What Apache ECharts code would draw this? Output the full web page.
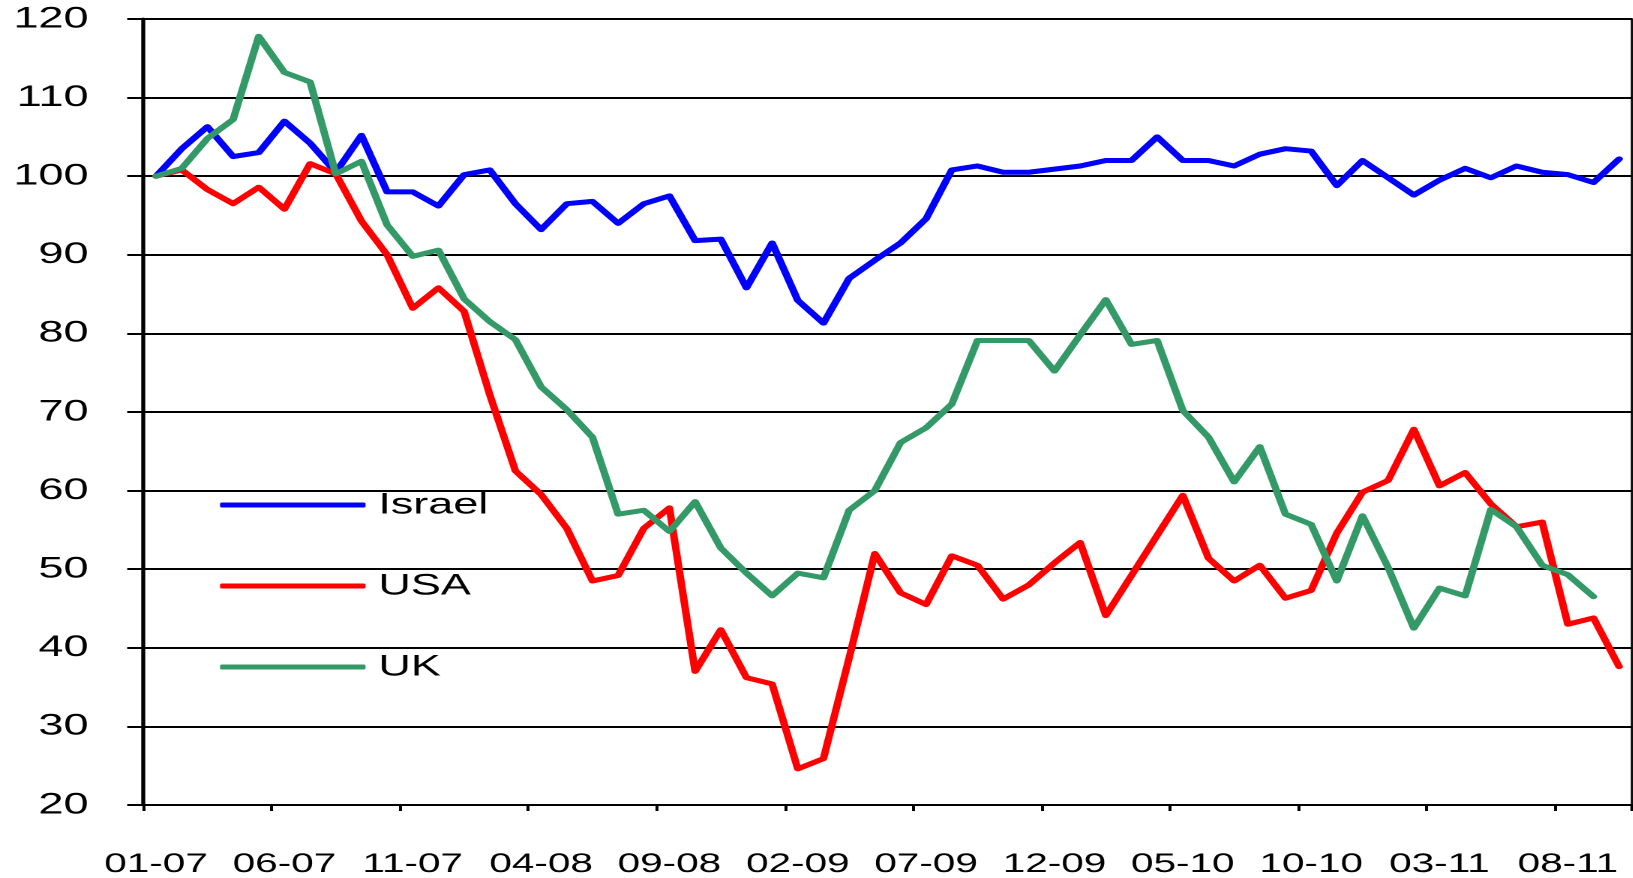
<!DOCTYPE html>
<html>
<head>
<meta charset="utf-8">
<script src="https://cdn.jsdelivr.net/npm/echarts@6/dist/echarts.min.js"></script>
<style>
  html, body { margin: 0; padding: 0; background: #fff; overflow: hidden; }
  /* the original picture is a chart stretched 1.5x sideways */
  #chart {
    width: 1088.67px;
    height: 878px;
    transform: scaleX(1.5);
    transform-origin: 0 0;
  }
</style>
</head>
<body>
<div id="chart"></div>
<script>
var months = [
  "01-07", "02-07", "03-07", "04-07", "05-07", "06-07", "07-07", "08-07", "09-07", "10-07", "11-07", "12-07",
  "01-08", "02-08", "03-08", "04-08", "05-08", "06-08", "07-08", "08-08", "09-08", "10-08", "11-08", "12-08",
  "01-09", "02-09", "03-09", "04-09", "05-09", "06-09", "07-09", "08-09", "09-09", "10-09", "11-09", "12-09",
  "01-10", "02-10", "03-10", "04-10", "05-10", "06-10", "07-10", "08-10", "09-10", "10-10", "11-10", "12-10",
  "01-11", "02-11", "03-11", "04-11", "05-11", "06-11", "07-11", "08-11", "09-11", "10-11"
];

var israel = [
  100, 103.5, 106.3, 102.5, 103, 107, 104.2, 100.5, 105.2, 98, 98, 96.2,
  100.2, 100.8, 96.5, 93.2, 96.5, 96.8, 94, 96.5, 97.5, 91.8, 92, 85.8,
  91.5, 84.2, 81.3, 87, 89.3, 91.5, 94.6, 100.8, 101.3, 100.5, 100.5, 100.9,
  101.3, 102, 102, 105, 102, 102, 101.3, 102.8, 103.5, 103.2, 98.8, 102,
  99.8, 97.6, 99.5, 101, 99.8, 101.3, 100.5, 100.2, 99.2, 102.2
];

var usa = [
  100, 100.8, 98.3, 96.5, 98.6, 95.8, 101.6, 100.3, 94.3, 90, 83.2, 85.8,
  82.8, 72.2, 62.5, 59.5, 55.2, 48.5, 49.2, 55.2, 57.8, 37, 42.3, 36.2,
  35.4, 24.6, 25.9, 38.7, 52, 47, 45.5, 51.7, 50.5, 46.2, 48, 50.8,
  53.4, 44.1, 49.2, 54.3, 59.4, 51.4, 48.5, 50.5, 46.3, 47.3, 54.6, 59.8,
  61.3, 67.8, 60.6, 62.3, 58.3, 55.4, 56, 43, 43.8, 37.6
];

var uk = [
  100, 101, 104.8, 107.2, 117.8, 113.2, 112, 100.3, 101.9, 93.8, 89.8, 90.6,
  84.4, 81.5, 79.2, 73.2, 70.3, 66.8, 57, 57.5, 54.8, 58.6, 52.7, 49.5,
  46.6, 49.5, 48.9, 57.5, 60, 66.1, 68, 71, 79.1, 79.1, 79.1, 75.2,
  79.8, 84.3, 78.6, 79.1, 70.2, 66.8, 61.1, 65.6, 57, 55.7, 48.5, 56.8,
  50.2, 42.5, 47.6, 46.6, 57.6, 55.4, 50.5, 49.3, 46.5
];

var chart = echarts.init(document.getElementById("chart"), null, { devicePixelRatio: 2 });

var labelFont = {
  color: "#000",
  fontFamily: "Liberation Sans, Arial, sans-serif",
  fontSize: 30
};

function lineSeries(name, data, color) {
  return {
    name: name,
    type: "line",
    data: data,
    symbol: "none",
    lineStyle: { color: color, width: 5, cap: "round", join: "round" },
    itemStyle: { color: color }
  };
}

chart.setOption({
  animation: false,
  backgroundColor: "#fff",
  grid: {
    left: 95.5,
    right: 1,
    top: 19,
    bottom: 73,
    show: true,
    borderColor: "#000",
    borderWidth: 1.5
  },
  legend: {
    orient: "vertical",
    left: 146.7,
    top: 490,
    padding: 0,
    icon: "roundRect",
    itemWidth: 97,
    itemHeight: 5,
    itemGap: 51,
    textStyle: Object.assign({}, labelFont, { padding: [0, 0, 0, 3.5] }),
    data: ["Israel", "USA", "UK"]
  },
  xAxis: {
    type: "category",
    data: months,
    boundaryGap: true,
    axisLine: { lineStyle: { color: "#000", width: 2 } },
    axisTick: { show: true, length: 6, lineStyle: { color: "#000", width: 2 } },
    axisLabel: Object.assign({}, labelFont, { interval: 4, margin: 46, fontSize: 27 }),
    splitLine: { show: false }
  },
  yAxis: {
    type: "value",
    min: 20,
    max: 120,
    interval: 10,
    axisLine: { show: true, lineStyle: { color: "#000", width: 2.7 } },
    axisTick: { show: true, length: 10.7, lineStyle: { color: "#000", width: 2 } },
    axisLabel: Object.assign({}, labelFont, { margin: 36.5, padding: [4, 0, 0, 0] }),
    splitLine: { show: true, lineStyle: { color: "#000", width: 2 } }
  },
  series: [
    lineSeries("Israel", israel, "#0000ff"),
    lineSeries("USA", usa, "#ff0000"),
    lineSeries("UK", uk, "#339966")
  ]
});
</script>
</body>
</html>
